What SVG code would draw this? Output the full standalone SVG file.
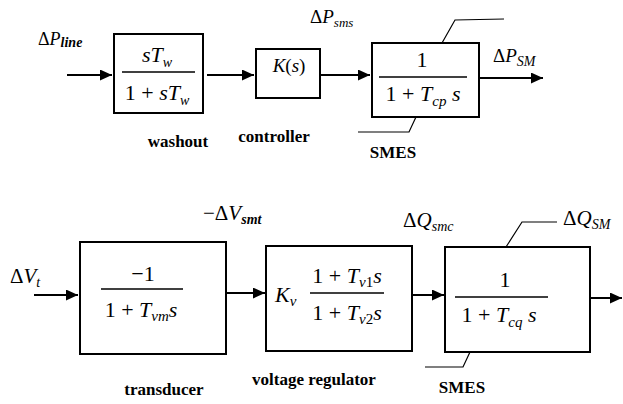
<svg xmlns="http://www.w3.org/2000/svg" width="623" height="404" viewBox="0 0 623 404" font-family="'Liberation Serif', 'Times New Roman', 'DejaVu Serif', serif">
<style>
svg text, svg tspan{font-family:"Liberation Serif","Times New Roman","DejaVu Serif",serif;fill:#000}
.lbl{font-size:17px;font-weight:bold;text-anchor:middle}
.m{font-size:22px}
.i{font-style:italic}
.box{fill:#fff;stroke:#000;stroke-width:2}
.bar{stroke:#000;stroke-width:1.5}
.con{stroke:#000;stroke-width:2;fill:none}
.lead{stroke:#000;stroke-width:1.2;fill:none}
</style>
<defs>
<marker id="ah" markerUnits="userSpaceOnUse" markerWidth="13" markerHeight="11" refX="12" refY="5.5" orient="auto">
<path d="M0,0 L12,5.5 L0,11 z" fill="#000"/>
</marker>
</defs>
<rect width="623" height="404" fill="#fff"/>

<g id="connectors">
<line class="con" x1="67" y1="75" x2="112" y2="75" marker-end="url(#ah)"/>
<line class="con" x1="207" y1="75" x2="254" y2="75" marker-end="url(#ah)"/>
<line class="con" x1="320" y1="75" x2="370" y2="75" marker-end="url(#ah)"/>
<line class="con" x1="479" y1="78" x2="543" y2="78" marker-end="url(#ah)"/>
<line class="con" x1="34" y1="295" x2="78" y2="295" marker-end="url(#ah)"/>
<line class="con" x1="226" y1="293" x2="265" y2="293" marker-end="url(#ah)"/>
<line class="con" x1="412" y1="295" x2="444" y2="295" marker-end="url(#ah)"/>
<line class="con" x1="590" y1="298" x2="622" y2="298" marker-end="url(#ah)"/>
<polyline class="lead" points="442,43 455,20 504,19"/>
<polyline class="lead" points="416,117 409,132 358,132"/>
<polyline class="lead" points="506,247 522,222 557,222"/>
<polyline class="lead" points="470,352 463,367 425,367"/>
</g>

<g id="washout">
<rect class="box" x="114" y="34" width="89" height="79"/>
<text class="m" x="157" y="62" text-anchor="middle"><tspan class="i">sT</tspan><tspan class="i" font-size="14" dy="5">w</tspan></text>
<line class="bar" x1="122" y1="72" x2="195" y2="72"/>
<text class="m" x="157" y="100" text-anchor="middle">1 + <tspan class="i">sT</tspan><tspan class="i" font-size="14" dy="5">w</tspan></text>
<text class="lbl" x="178" y="147">washout</text>
</g>

<g id="controller">
<rect class="box" x="256" y="49" width="64" height="49"/>
<text font-size="19" x="289" y="72" text-anchor="middle"><tspan class="i">K</tspan>(<tspan class="i">s</tspan>)</text>
<text class="lbl" x="274" y="142">controller</text>
</g>

<g id="smes-p">
<rect class="box" x="372" y="43" width="107" height="74"/>
<text class="m" x="422" y="67" text-anchor="middle">1</text>
<line class="bar" x1="379" y1="77" x2="467" y2="77"/>
<text class="m" x="423" y="101" text-anchor="middle">1 + <tspan class="i">T</tspan><tspan class="i" font-size="15" dy="5">cp</tspan><tspan class="i" dy="-5"> s</tspan></text>
<text class="lbl" x="393" y="158">SMES</text>
</g>

<g id="transducer">
<rect class="box" x="80" y="242" width="146" height="112"/>
<text class="m" x="143" y="281" text-anchor="middle">−1</text>
<line class="bar" x1="101" y1="289" x2="183" y2="289"/>
<text class="m" x="141" y="317" text-anchor="middle">1 + <tspan class="i">T</tspan><tspan class="i" font-size="15" dy="4">vm</tspan><tspan class="i" dy="-4">s</tspan></text>
<text class="lbl" x="164" y="395">transducer</text>
</g>

<g id="voltage-regulator">
<rect class="box" x="266" y="246" width="146" height="105"/>
<text class="m" x="275" y="302"><tspan class="i">K</tspan><tspan class="i" font-size="15" dy="4">v</tspan></text>
<text class="m" x="347" y="283" text-anchor="middle">1 + <tspan class="i">T</tspan><tspan class="i" font-size="15" dy="4">v</tspan><tspan font-size="15">1</tspan><tspan class="i" dy="-4">s</tspan></text>
<line class="bar" x1="310" y1="293" x2="384" y2="293"/>
<text class="m" x="347" y="320" text-anchor="middle">1 + <tspan class="i">T</tspan><tspan class="i" font-size="15" dy="4">v</tspan><tspan font-size="15">2</tspan><tspan class="i" dy="-4">s</tspan></text>
<text class="lbl" x="314" y="385">voltage regulator</text>
</g>

<g id="smes-q">
<rect class="box" x="445" y="247" width="145" height="105"/>
<text class="m" x="505" y="287" text-anchor="middle">1</text>
<line class="bar" x1="455" y1="297" x2="548" y2="297"/>
<text class="m" x="499" y="322" text-anchor="middle">1 + <tspan class="i">T</tspan><tspan class="i" font-size="15" dy="5">cq</tspan><tspan class="i" dy="-5"> s</tspan></text>
<text class="lbl" x="462" y="393">SMES</text>
</g>

<g id="signals">
<text x="38" y="45" font-size="18">Δ<tspan class="i">P</tspan><tspan class="i" font-size="14" dy="2" font-weight="bold">line</tspan></text>
<text x="310" y="23" font-size="19">Δ<tspan class="i">P</tspan><tspan class="i" font-size="13" dy="4">sms</tspan></text>
<text x="493" y="62" font-size="19">Δ<tspan class="i">P</tspan><tspan class="i" font-size="14" dy="4">SM</tspan></text>
<text x="10" y="283" font-size="21">Δ<tspan class="i">V</tspan><tspan class="i" font-size="14" dy="4">t</tspan></text>
<text x="203" y="220" font-size="21">−Δ<tspan class="i">V</tspan><tspan class="i" font-size="14" dy="4" font-weight="bold">smt</tspan></text>
<text x="403" y="227" font-size="21">Δ<tspan class="i">Q</tspan><tspan class="i" font-size="14" dy="4">smc</tspan></text>
<text x="563" y="225" font-size="21">Δ<tspan class="i">Q</tspan><tspan class="i" font-size="14" dy="4">SM</tspan></text>
</g>
</svg>
